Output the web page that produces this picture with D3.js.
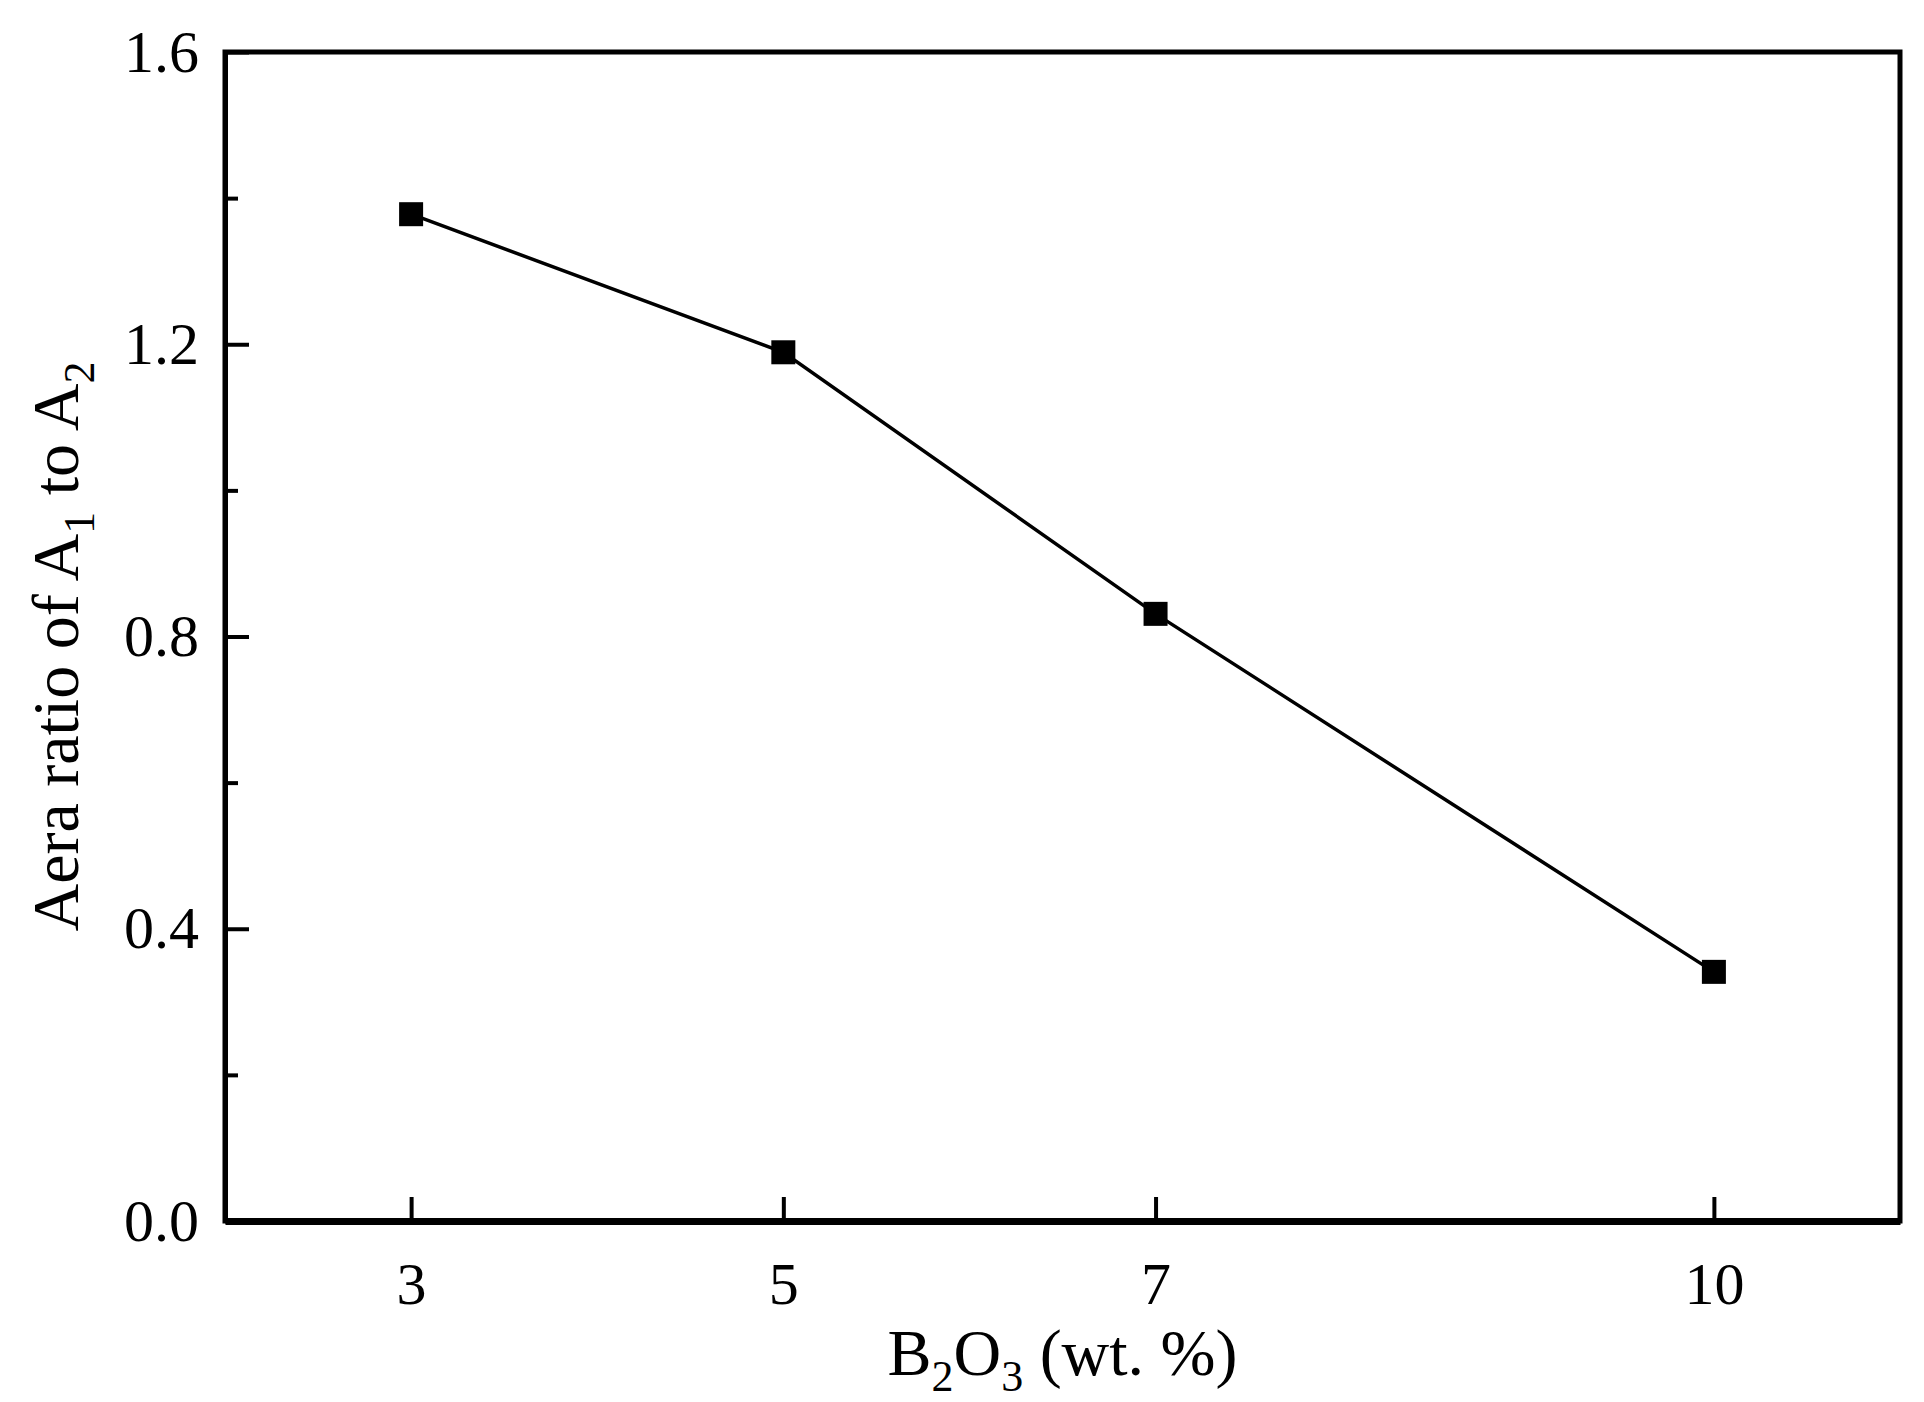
<!DOCTYPE html>
<html><head><meta charset="utf-8">
<script src="https://cdn.jsdelivr.net/npm/d3@7"></script>
<style>body{margin:0;background:#fff}</style></head>
<body><svg id="c" width="1924" height="1402"></svg>
<script>
const xValues=[3,5,7,10];
const yValues=[1.378,1.189,0.831,0.341];
const xTicks=[3,5,7,10];
const yMajor=[0,0.4,0.8,1.2,1.6];
const yMinor=[0.2,0.6,1.0,1.4];
const L=225,T=52,R=1900,B=1221;
const svg=d3.select("#c");
const x=d3.scaleLinear().domain([2,11]).range([L,R]);
const y=d3.scaleLinear().domain([0,1.6]).range([B,T]);
const font="'Liberation Serif','Times New Roman',serif";
svg.append("rect").attr("x",L).attr("y",T).attr("width",R-L).attr("height",B-T).attr("fill","none").attr("stroke","#000").attr("stroke-width",5);
const gx=svg.append("g").attr("transform",`translate(0,${B})`).call(d3.axisBottom(x).tickValues(xTicks).tickSizeInner(-24).tickSizeOuter(0).tickPadding(40).tickFormat(d3.format("d")));
gx.select(".domain").attr("stroke-width",7);
const gy=svg.append("g").attr("transform",`translate(${L},0)`).call(d3.axisLeft(y).tickValues(yMajor).tickSizeInner(-24).tickSizeOuter(0).tickPadding(26).tickFormat(d3.format(".1f")));
gy.select(".domain").attr("stroke-width",5);
svg.append("g").attr("transform",`translate(${L},0)`).call(d3.axisLeft(y).tickValues(yMinor).tickSize(-13).tickFormat("")).select(".domain").remove();
svg.selectAll(".tick line").attr("stroke-width",4);
svg.selectAll(".domain").attr("stroke","#000");
svg.selectAll(".tick text").attr("font-family",font).attr("font-size",60).attr("fill","#000");
gx.selectAll(".tick text").attr("dy","0.71em");
const line=d3.line().x((d,i)=>x(xValues[i])).y(d=>y(d));
svg.append("path").datum(yValues).attr("d",line).attr("fill","none").attr("stroke","#000").attr("stroke-width",3.5);
svg.selectAll("rect.m").data(yValues).enter().append("rect").attr("class","m")
 .attr("x",(d,i)=>x(xValues[i])-12).attr("y",d=>y(d)-12).attr("width",24).attr("height",24).attr("fill","#000");
const xl=svg.append("text").attr("x",(L+R)/2).attr("y",1375).attr("text-anchor","middle").attr("font-family",font).attr("font-size",66);
xl.append("tspan").text("B");
xl.append("tspan").text("2").attr("font-size",44).attr("dy",16);
xl.append("tspan").text("O").attr("dy",-16);
xl.append("tspan").text("3").attr("font-size",44).attr("dy",16);
xl.append("tspan").text(" (wt. %)").attr("dy",-16);
const yl=svg.append("text").attr("transform",`translate(78,${(T+B)/2+10}) rotate(-90)`).attr("text-anchor","middle").attr("font-family",font).attr("font-size",66);
yl.append("tspan").text("Aera ratio of A");
yl.append("tspan").text("1").attr("font-size",44).attr("dy",16);
yl.append("tspan").text(" to A").attr("dy",-16);
yl.append("tspan").text("2").attr("font-size",44).attr("dy",16);
</script></body></html>
